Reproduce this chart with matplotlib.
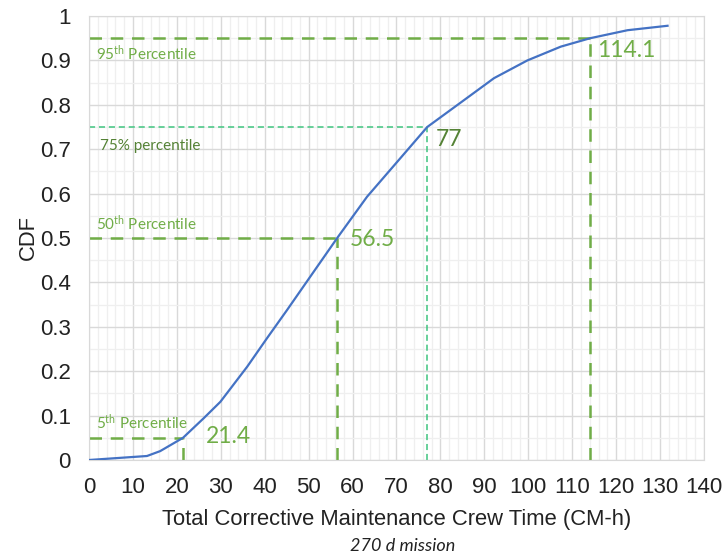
import matplotlib
matplotlib.use("Agg")
import matplotlib.pyplot as plt
from matplotlib.ticker import MultipleLocator, FuncFormatter

plt.rcParams['mathtext.fontset'] = 'custom'
plt.rcParams['mathtext.rm'] = 'Lato'
plt.rcParams['mathtext.it'] = 'Lato:italic'

# CDF curve
crew_time = [0, 13.2, 16.2, 21.4, 26.1, 29.9, 36.0, 40.5, 45.1, 49.6, 56.5, 63.3,
             70.9, 77.0, 85.3, 92.2, 99.8, 107.4, 114.1, 122.6, 131.7]
cdf = [0.0, 0.009, 0.02, 0.05, 0.094, 0.131, 0.21, 0.274, 0.338, 0.402, 0.5, 0.593,
       0.68, 0.75, 0.81, 0.86, 0.9, 0.931, 0.95, 0.968, 0.978]

pct_values = [21.4, 56.5, 77, 114.1]
pct_levels = [0.05, 0.5, 0.75, 0.95]
pct_labels = ["5$^{\\mathrm{th}}$ Percentile", "50$^{\\mathrm{th}}$ Percentile",
              "75% percentile", "95$^{\\mathrm{th}}$ Percentile"]
value_labels = ["21.4", "56.5", "77", "114.1"]

green = "#70AD47"
teal = "#3FC47F"
dark_green = "#548235"

fig = plt.figure(figsize=(7.22, 5.58), dpi=100)
ax = fig.add_axes([89/722, 1-460/558, (704-89)/722, (460-16)/558])

ax.set_xlim(0, 140)
ax.set_ylim(0, 1)
ax.xaxis.set_major_locator(MultipleLocator(10))
ax.xaxis.set_minor_locator(MultipleLocator(2))
ax.yaxis.set_major_locator(MultipleLocator(0.1))
ax.yaxis.set_minor_locator(MultipleLocator(0.05))
ax.yaxis.set_major_formatter(FuncFormatter(lambda v, p: "0" if abs(v) < 1e-9 else ("1" if abs(v-1) < 1e-9 else f"{v:.1f}")))
ax.grid(which='major', color='#D9D9D9', lw=1.0)
ax.grid(which='minor', color='#EFEFEF', lw=0.9)
ax.set_axisbelow(True)
for s in ax.spines.values():
    s.set_color('#D9D9D9')
ax.tick_params(which='both', length=0)
ax.tick_params(axis='both', labelsize=16, colors='#222222')
ax.tick_params(axis='y', pad=13)
ax.tick_params(axis='x', pad=12)
for t in ax.get_xticklabels() + ax.get_yticklabels():
    t.set_fontfamily('Liberation Sans')

# percentile guide lines
for v, lv, i in zip(pct_values, pct_levels, range(4)):
    if i == 2:
        kw = dict(color=teal, lw=1.1, dashes=(4, 2.5))
    else:
        kw = dict(color=green, lw=1.8, dashes=(5, 3.5))
    ax.plot([0, v], [lv, lv], **kw)
    ax.plot([v, v], [0, lv], **kw)

ax.plot(crew_time, cdf, color='#4472C4', lw=1.6, zorder=5)

lab_kw = dict(fontfamily='Lato', fontsize=11)
ax.text(1.5, pct_levels[0] + 0.012, pct_labels[0], color=green, va='bottom', **lab_kw)
ax.text(1.5, pct_levels[1] + 0.012, pct_labels[1], color=green, va='bottom', **lab_kw)
ax.text(2.5, pct_levels[2] - 0.028, pct_labels[2], color=dark_green, va='top', **lab_kw)
ax.text(1.5, pct_levels[3] - 0.012, pct_labels[3], color=green, va='top', **lab_kw)

val_kw = dict(fontfamily='Lato', fontsize=16.5)
ax.text(pct_values[0] + 5.2, pct_levels[0] + 0.004, value_labels[0], color=green, va='center', **val_kw)
ax.text(pct_values[1] + 2.8, pct_levels[1] - 0.004, value_labels[1], color=green, va='center', **val_kw)
ax.text(pct_values[2] + 2.0, pct_levels[2] - 0.005, value_labels[2], color=dark_green, va='top', **val_kw)
ax.text(pct_values[3] + 1.5, pct_levels[3] - 0.005, value_labels[3], color=green, va='top', **val_kw)

ax.set_xlabel("Total Corrective Maintenance Crew Time (CM-h)", fontsize=15.8,
              fontfamily='Liberation Sans', color='#222222', labelpad=8)
ax.set_ylabel("CDF", fontsize=15.8, fontfamily='Liberation Sans', color='#222222', labelpad=1)

fig.text(403/722, 1-546/558, "270 d mission", ha='center', va='center',
         fontsize=13, style='italic', fontfamily='Lato', color='#222222')

fig.savefig("out.png", dpi=100)
